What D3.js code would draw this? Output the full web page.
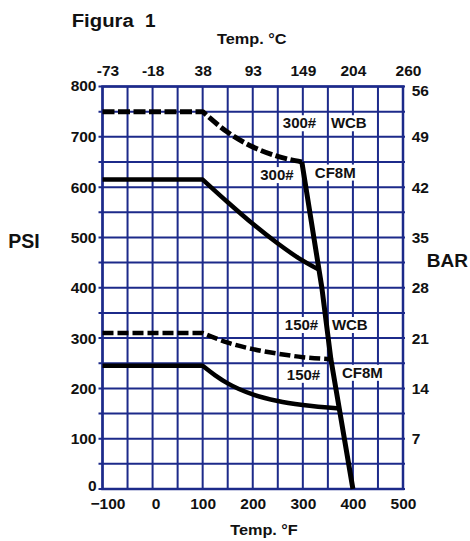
<!DOCTYPE html>
<html><head><meta charset="utf-8">
<script src="https://cdn.jsdelivr.net/npm/d3@7"></script>
<style>body{margin:0;background:#fff}</style>
</head><body>
<svg id="c" width="470" height="541"></svg>
<script>
// ---- data ----
const fTicks = [-100, 0, 100, 200, 300, 400, 500];
const cLabels = ["-73", "-18", "38", "93", "149", "204", "260"];
const psiTicks = [0, 100, 200, 300, 400, 500, 600, 700, 800];
const barTicks = [800, 700, 600, 500, 400, 300, 200, 100];
const barLabels = ["56", "49", "42", "35", "28", "21", "14", "7"];
const wcb300 = [[-100, 750], [100, 750], [150, 709], [200, 680], [250, 661], [298, 650]];
const cf8m300 = [[-100, 615], [100, 615], [150, 570], [200, 527], [250, 488], [290, 460], [332, 436]];
const wcb150 = [[-100, 310], [100, 310], [150, 291], [200, 278], [250, 269], [300, 262], [355, 258]];
const cf8m150 = [[-100, 245], [100, 245], [125, 226], [150, 210], [200, 188], [250, 175], [300, 167], [373, 160]];
const limitLine = [[298, 650], [338, 400], [356, 258], [400, 0]];
const annotations = [
  {t: "300#", f: 260, p: 717}, {t: "WCB", f: 356, p: 717},
  {t: "300#", f: 215, p: 614}, {t: "CF8M", f: 324, p: 619},
  {t: "150#", f: 264, p: 316}, {t: "WCB", f: 358, p: 316},
  {t: "150#", f: 268, p: 217}, {t: "CF8M", f: 378, p: 221}
];

// ---- chart ----
const FONT = "'Liberation Sans', Arial, Helvetica, sans-serif";
const gridColor = "#1c2a8a";
const svg = d3.select("#c").style("font-family", FONT);
const x = d3.scaleLinear().domain([-100, 500]).range([102.5, 403]);
const y = d3.scaleLinear().domain([0, 800]).range([489, 86.5]);

// grid
const grid = svg.append("g");
grid.selectAll("line.v").data(d3.range(-100, 501, 50)).join("line").attr("class", "v")
  .attr("x1", d => x(d)).attr("x2", d => x(d)).attr("y1", y(0)).attr("y2", y(800))
  .attr("stroke", gridColor).attr("stroke-width", 2);
grid.selectAll("line.h").data(d3.range(0, 801, 50)).join("line").attr("class", "h")
  .attr("x1", x(-100) - 4).attr("x2", x(500) + 2).attr("y1", d => y(d)).attr("y2", d => y(d))
  .attr("stroke", gridColor).attr("stroke-width", 2);
svg.append("rect").attr("x", x(-100)).attr("y", y(800))
  .attr("width", x(500) - x(-100)).attr("height", y(0) - y(800))
  .attr("fill", "none").attr("stroke", gridColor).attr("stroke-width", 2.5);

function styleAxis(g) {
  g.select(".domain").remove();
  g.selectAll("line").remove();
  g.selectAll("text").attr("font-family", FONT).attr("font-weight", "bold")
    .attr("font-size", 15.5).attr("fill", "#111");
}

// bottom axis (°F)
svg.append("g").attr("transform", `translate(0,${y(0)})`)
  .call(d3.axisBottom(x).tickValues(fTicks).tickSize(0).tickPadding(8.5).tickFormat(d3.format("d")))
  .call(styleAxis)
  .selectAll("text").attr("dx", (d, i) => i === 0 ? 5 : (i === 1 ? 3 : 0));

// top axis (°C)
svg.append("g").attr("transform", `translate(0,${y(800)})`)
  .call(d3.axisTop(x).tickValues(fTicks).tickSize(0).tickPadding(10.5).tickFormat((d, i) => cLabels[i]))
  .call(styleAxis)
  .selectAll("text").attr("dx", (d, i) => (i === 0 || i === fTicks.length - 1) ? 5 : 0);

// left axis (PSI)
svg.append("g").attr("transform", `translate(${x(-100)},0)`)
  .call(d3.axisLeft(y).tickValues(psiTicks).tickSize(0).tickPadding(6).tickFormat(d3.format("d")))
  .call(styleAxis)
  .selectAll("text").attr("dy", d => d === 0 ? "0.12em" : (d === 800 ? "0.25em" : "0.32em"));

// right axis (BAR)
svg.append("g").attr("transform", `translate(${x(500)},0)`)
  .call(d3.axisRight(y).tickValues(barTicks).tickSize(0).tickPadding(8.7).tickFormat((d, i) => barLabels[i]))
  .call(styleAxis)
  .selectAll("text").attr("dy", (d, i) => i === 0 ? "0.55em" : "0.32em");

// annotations with white background
const ann = svg.append("g");
annotations.forEach(a => {
  const gg = ann.append("g").attr("transform", `translate(${x(a.f)},${y(a.p)})`);
  const t = gg.append("text").text(a.t).attr("font-weight", "bold").attr("font-size", 15)
    .attr("fill", "#111");
  const b = t.node().getBBox();
  gg.insert("rect", "text").attr("x", b.x - 1.5).attr("y", b.y + 1)
    .attr("width", b.width + 3).attr("height", b.height - 1).attr("fill", "#fff");
});

// curves: flat segment straight, then smooth monotone decline
const smooth = d3.line().x(d => x(d[0])).y(d => y(d[1])).curve(d3.curveMonotoneX);
const straight = d3.line().x(d => x(d[0])).y(d => y(d[1]));
function kinked(pts) {
  return `M${x(pts[0][0])},${y(pts[0][1])}L` + smooth(pts.slice(1)).slice(1);
}
const curves = svg.append("g").attr("fill", "none").attr("stroke", "#000")
  .attr("stroke-linejoin", "round");
curves.append("path").attr("d", kinked(wcb300)).attr("stroke-width", 5).attr("stroke-dasharray", "12,3.5");
curves.append("path").attr("d", kinked(wcb150)).attr("stroke-width", 4.5).attr("stroke-dasharray", "11,4");
curves.append("path").attr("d", kinked(cf8m300)).attr("stroke-width", 4.5);
curves.append("path").attr("d", kinked(cf8m150)).attr("stroke-width", 4.5);
curves.append("path").attr("d", straight(limitLine)).attr("stroke-width", 5);

// titles
const txt = (s, xx, yy, size, anchor, sx) => svg.append("text").text(s)
  .attr("transform", `translate(${xx},${yy}) scale(${sx || 1},1)`)
  .attr("font-size", size).attr("font-weight", "bold").attr("fill", "#111")
  .attr("text-anchor", anchor || "start");
txt("Figura", 71.7, 27, 19, "start", 1.07);
txt("1", 145, 27, 19);
txt("Temp. °C", 251.7, 44, 15.5, "middle", 1.05);
txt("Temp. °F", 264, 535, 15.5, "middle", 1.05);
txt("PSI", 8.3, 248.3, 19.5);
txt("BAR", 426.7, 266.7, 19);
</script>
</body></html>
